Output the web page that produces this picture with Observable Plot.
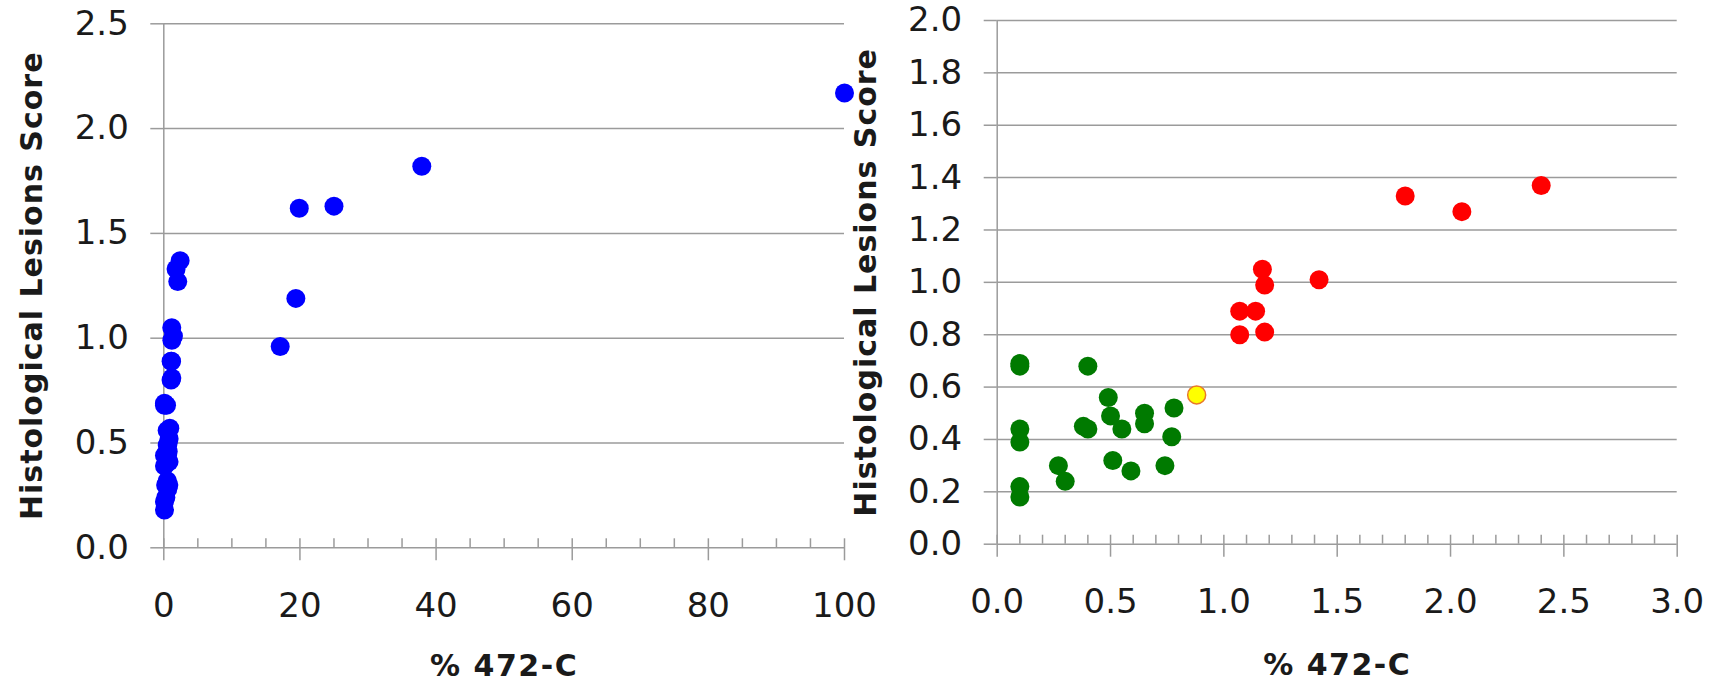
<!DOCTYPE html>
<html><head><meta charset="utf-8">
<script src="https://cdn.jsdelivr.net/npm/d3@7"></script>
<script src="https://cdn.jsdelivr.net/npm/@observablehq/plot@0.6"></script>
<style>
html,body{margin:0;padding:0;background:#fff;}
#wrap{position:relative;width:1711px;height:687px;overflow:hidden;font-family:"DejaVu Sans";}
#left{position:absolute;left:0;top:0;}
#right{position:absolute;left:850px;top:0;}
</style></head><body><div id="wrap"><div id="left"></div><div id="right"></div></div>
<script>
// ---- data ----
const greenX = [0.10, 0.10, 0.10, 0.10, 0.10, 0.10, 0.27, 0.30, 0.38, 0.40, 0.40, 0.49, 0.50, 0.51, 0.55, 0.59, 0.65, 0.65, 0.74, 0.77, 0.78];
const greenY = [0.69, 0.68, 0.44, 0.39, 0.22, 0.18, 0.30, 0.24, 0.45, 0.44, 0.68, 0.56, 0.49, 0.32, 0.44, 0.28, 0.50, 0.46, 0.30, 0.41, 0.52];
const yellowX = [0.88];
const yellowY = [0.57];
const redX = [1.07, 1.07, 1.14, 1.17, 1.18, 1.18, 1.42, 1.80, 2.05, 2.40];
const redY = [0.89, 0.80, 0.89, 1.05, 0.99, 0.81, 1.01, 1.33, 1.27, 1.37];
const extraX = [17.1, 19.4, 19.9, 25.0, 37.9, 100];
const extraY = [0.96, 1.19, 1.62, 1.63, 1.82, 2.17];

const leftYTicks = [0, 0.5, 1.0, 1.5, 2.0, 2.5];
const leftXTicks = [0, 20, 40, 60, 80, 100];
const leftXMinor = d3.range(5, 100, 5).filter(v => v % 20 !== 0);
const rightYTicks = [0, 0.2, 0.4, 0.6, 0.8, 1.0, 1.2, 1.4, 1.6, 1.8, 2.0];
const rightXTicks = [0, 0.5, 1.0, 1.5, 2.0, 2.5, 3.0];
const rightXMinor = d3.range(1, 30).filter(i => i % 5 !== 0).map(i => i / 10);

const xTitle = "% 472-C";
const yTitle = "Histological Lesions Score";

const zip = (xs, ys) => xs.map((x, i) => ({x, y: ys[i]}));
const green = zip(greenX, greenY);
const yellow = zip(yellowX, yellowY);
const red = zip(redX, redY);
const allData = [...green, ...yellow, ...red, ...zip(extraX, extraY)];

const GRID = "#9b9b9b";
const f1 = d3.format(".1f");

function axes(yTicks, xMajor, xMinor, xFmt, titleDy) {
  return [
    Plot.gridY(yTicks, {stroke: GRID, strokeOpacity: 1, strokeWidth: 1.5}),
    Plot.axisY(yTicks, {tickSize: 13, tickFormat: () => "", stroke: GRID, strokeWidth: 1.5, label: null}),
    Plot.axisY(yTicks, {tickSize: 0, tickPadding: 35, tickFormat: f1, fontSize: 34, label: null}),
    Plot.ruleX([0], {stroke: GRID, strokeWidth: 1.5}),
    Plot.axisX(xMinor, {tickSize: 9, dy: -9, tickFormat: () => "", stroke: GRID, strokeWidth: 1.5, label: null}),
    Plot.axisX(xMajor, {tickSize: 22, dy: -9, tickFormat: () => "", stroke: GRID, strokeWidth: 1.5, label: null}),
    Plot.axisX(xMajor, {tickSize: 0, tickPadding: 45, tickFormat: xFmt, fontSize: 34, label: null}),
    Plot.text([xTitle], {frameAnchor: "bottom", dy: titleDy, lineAnchor: "bottom", textAnchor: "middle", fontWeight: "bold", fontSize: 30, text: d => d}),
    Plot.text([yTitle], {frameAnchor: "left", dx: -143, rotate: -90, lineAnchor: "top", textAnchor: "middle", fontWeight: "bold", fontSize: 30, text: d => d})
  ];
}

const style = {background: "transparent", overflow: "visible", fontFamily: "DejaVu Sans", color: "#1a1a1a"};

const left = Plot.plot({
  width: 850, height: 687,
  marginLeft: 163.3, marginRight: 6, marginTop: 23.3, marginBottom: 139.7,
  style,
  x: {domain: [0, 100]},
  y: {domain: [0, 2.5]},
  marks: [
    ...axes(leftYTicks, leftXTicks, leftXMinor, d3.format("d"), 128),
    Plot.dot(allData, {x: "x", y: "y", r: 9.5, fill: "#0000ff"})
  ]
});

const right = Plot.plot({
  width: 861, height: 687,
  marginLeft: 146.7, marginRight: 34.3, marginTop: 20, marginBottom: 143.3,
  style,
  x: {domain: [0, 3]},
  y: {domain: [0, 2]},
  marks: [
    ...axes(rightYTicks, rightXTicks, rightXMinor, f1, 131),
    Plot.dot(green, {x: "x", y: "y", r: 9.5, fill: "#007a00"}),
    Plot.dot(red, {x: "x", y: "y", r: 9.5, fill: "#ff0000"}),
    Plot.dot(yellow, {x: "x", y: "y", r: 9, fill: "#ffff00", stroke: "#e8782a", strokeWidth: 1.5})
  ]
});

document.getElementById("left").appendChild(left);
document.getElementById("right").appendChild(right);

d3.selectAll("svg text").each(function() {
  const t = this.textContent;
  if (t === xTitle) d3.select(this).style("letter-spacing", "1.5px");
  if (t === yTitle) d3.select(this).style("letter-spacing", "1px");
});
</script></body></html>
